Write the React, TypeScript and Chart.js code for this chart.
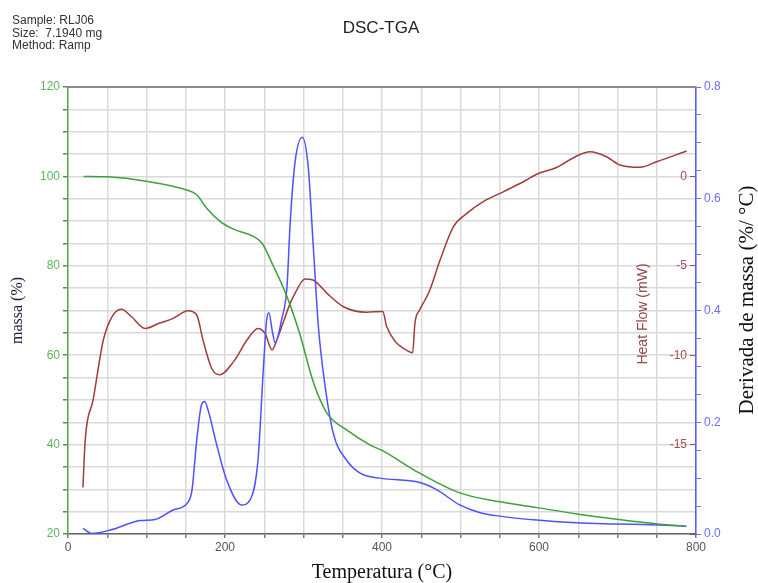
import React, { useEffect, useRef } from 'react';
import { Chart, registerables } from 'chart.js';

Chart.register(...registerables);

// Temperature (°C) samples and TGA mass (%)
const tempMass = [20, 50, 100, 150, 164, 177, 194, 211, 236, 247, 262, 279, 295, 313, 330, 355, 385, 400, 448, 499, 550, 597, 648, 699, 754, 785];
const massa = [100, 99.9, 98.9, 97.0, 95.9, 92.8, 89.9, 88.2, 86.6, 85.1, 79.8, 73.1, 64.9, 53.7, 47.0, 43.3, 39.9, 38.7, 33.6, 29.2, 27.2, 25.9, 24.5, 23.3, 22.2, 21.8];

// Derivative of mass (%/°C)
const tempDeriv = [19, 30, 54, 92, 111, 134, 153, 158, 164, 170, 174, 179, 189, 202, 221, 232, 242, 249, 253, 256, 260, 264, 272, 279, 283, 289, 298.5, 306, 312.5, 319, 327, 338, 355, 372, 397, 448, 470, 499, 525, 550, 597, 648, 699, 754, 788];
const deriv = [0.010, 0.001, 0.007, 0.024, 0.026, 0.043, 0.057, 0.079, 0.168, 0.231, 0.237, 0.219, 0.162, 0.097, 0.052, 0.061, 0.132, 0.299, 0.383, 0.396, 0.365, 0.342, 0.383, 0.443, 0.556, 0.663, 0.710, 0.657, 0.514, 0.371, 0.270, 0.180, 0.132, 0.109, 0.100, 0.092, 0.079, 0.052, 0.038, 0.032, 0.025, 0.020, 0.018, 0.016, 0.014];

// DSC heat flow (mW)
const tempHeat = [19, 22, 32, 45, 56, 68, 81, 98, 117, 134, 153, 164, 172, 183, 193, 211, 228, 242, 251, 260, 266, 283, 287, 302, 312, 330, 351, 380, 401, 406, 417, 427, 439, 442, 448, 455, 461, 474, 491, 508, 529, 555, 580, 597, 623, 648, 665, 686, 703, 729, 750, 788];
const heatFlow = [-17.4, -14.7, -12.5, -9.15, -7.85, -7.43, -7.85, -8.5, -8.2, -7.94, -7.51, -7.75, -9.15, -10.73, -11.1, -10.36, -9.15, -8.5, -8.78, -9.7, -9.15, -7.1, -6.73, -5.74, -5.79, -6.54, -7.29, -7.6, -7.55, -8.4, -9.24, -9.6, -9.86, -8.2, -7.47, -6.9, -6.35, -4.68, -2.81, -2.07, -1.41, -0.85, -0.30, 0.12, 0.51, 1.14, 1.38, 1.10, 0.64, 0.51, 0.82, 1.42];

const infoLines = ['Sample: RLJ06', 'Size:  7.1940 mg', 'Method: Ramp'];
const chartTitle = 'DSC-TGA';
const xTitle = 'Temperatura (°C)';
const massTitle = 'massa (%)';
const derivTitle = 'Derivada de massa (%/ °C)';
const heatTitle = 'Heat Flow (mW)';

const GREEN = 'rgb(60,160,60)';
const BLUE = 'rgb(80,80,255)';
const BROWN = 'rgb(160,60,60)';
const SANS = '"Liberation Sans", Arial, sans-serif';
const SERIF = '"Liberation Serif", "Times New Roman", serif';

const toPoints = (xs: number[], ys: number[]) => xs.map((x, i) => ({ x, y: ys[i] }));
const isMult = (v: number, m: number) => Math.abs(v / m - Math.round(v / m)) < 1e-6;

export default function App() {
  const ref = useRef<HTMLCanvasElement>(null);

  useEffect(() => {
    if (!ref.current) return;
    const textPlugin = {
      id: 'extraText',
      afterDraw(chart: any) {
        const { ctx, chartArea } = chart;
        ctx.save();
        // top frame line
        ctx.strokeStyle = '#8a8a8a';
        ctx.lineWidth = 2;
        ctx.beginPath();
        ctx.moveTo(chartArea.left, chartArea.top);
        ctx.lineTo(chartArea.right, chartArea.top);
        ctx.stroke();
        // sample info
        ctx.fillStyle = '#333';
        ctx.font = `12px ${SANS}`;
        ctx.textAlign = 'left';
        ctx.textBaseline = 'middle';
        infoLines.forEach((t, i) => ctx.fillText(t, 12, 21 + i * 12.5));
        // title
        ctx.fillStyle = '#222';
        ctx.font = `17px ${SANS}`;
        ctx.textAlign = 'center';
        ctx.fillText(chartTitle, 381, 28);
        // heat flow title
        ctx.save();
        ctx.translate(chartArea.right - 53, 314);
        ctx.rotate(-Math.PI / 2);
        ctx.fillStyle = 'rgb(150,70,70)';
        ctx.font = `14px ${SANS}`;
        ctx.fillText(heatTitle, 0, 0);
        ctx.restore();
        // derivative title
        ctx.save();
        ctx.translate(747, 300);
        ctx.rotate(-Math.PI / 2);
        ctx.fillStyle = '#111';
        ctx.font = `21px ${SERIF}`;
        ctx.fillText(derivTitle, 0, 0);
        ctx.restore();
        ctx.restore();
      },
    };

    const chart = new Chart(ref.current, {
      type: 'scatter',
      data: {
        datasets: [
          { data: toPoints(tempMass, massa), yAxisID: 'y', borderColor: GREEN, borderWidth: 1.5, showLine: true, pointRadius: 0, cubicInterpolationMode: 'monotone' },
          { data: toPoints(tempDeriv, deriv), yAxisID: 'yd', borderColor: BLUE, borderWidth: 1.5, showLine: true, pointRadius: 0, cubicInterpolationMode: 'monotone' },
          { data: toPoints(tempHeat, heatFlow), yAxisID: 'yh', borderColor: BROWN, borderWidth: 1.5, showLine: true, pointRadius: 0, cubicInterpolationMode: 'monotone' },
        ],
      } as any,
      options: {
        responsive: false,
        devicePixelRatio: 1,
        animation: false,
        layout: { padding: { top: 87, left: 0, right: 0, bottom: 0 } },
        plugins: { legend: { display: false }, tooltip: { enabled: false }, title: { display: false } },
        scales: {
          x: {
            type: 'linear',
            position: 'bottom',
            min: 0,
            max: 800,
            afterFit: (s: any) => { s.height = 49; },
            ticks: {
              stepSize: 50,
              autoSkip: false,
              maxRotation: 0,
              padding: 2,
              color: '#555',
              font: { family: SANS, size: 12 },
              callback: (v: any) => (isMult(v, 200) ? String(v) : ''),
            },
            grid: { color: '#d9d9d9', lineWidth: 1.5, tickLength: 4, tickColor: '#777' },
            border: { color: '#666', width: 1.5 },
            title: { display: true, text: xTitle, color: '#111', font: { family: SERIF, size: 20, lineHeight: 1.0 }, padding: 0 },
          },
          y: {
            type: 'linear',
            position: 'left',
            min: 20,
            max: 120,
            afterFit: (s: any) => { s.width = 68; },
            ticks: {
              stepSize: 5,
              autoSkip: false,
              padding: 3,
              color: '#5cb85c',
              font: { family: SANS, size: 12 },
              callback: (v: any) => (isMult(v, 20) ? String(v) : ''),
            },
            grid: { color: '#d9d9d9', lineWidth: 1.5, tickLength: 5, tickColor: '#777' },
            border: { color: '#4caf50', width: 1.5 },
            title: { display: true, text: massTitle, color: '#1c1c3c', font: { family: SERIF, size: 16 }, padding: { top: 8, bottom: 0 } },
          },
          yh: {
            type: 'linear',
            position: 'right',
            weight: 0,
            min: -20,
            max: 5,
            afterFit: (s: any) => { s.width = 0; },
            ticks: {
              stepSize: 5,
              autoSkip: false,
              mirror: true,
              padding: -9,
              color: 'rgb(160,80,80)',
              font: { family: SANS, size: 12 },
              callback: (v: any) => (v === 5 || v === -20 ? '' : String(v)),
            },
            grid: { display: true, drawOnChartArea: false, drawTicks: true, tickLength: -6, tickColor: 'rgb(160,80,80)' },
            border: { display: false },
          },
          yd: {
            type: 'linear',
            position: 'right',
            weight: 1,
            min: 0,
            max: 0.8,
            afterFit: (s: any) => { s.width = 62; },
            ticks: {
              stepSize: 0.05,
              autoSkip: false,
              padding: 3,
              color: '#6b6bff',
              font: { family: SANS, size: 12 },
              callback: (v: any) => (isMult(v, 0.2) ? Number(v).toFixed(1) : ''),
            },
            grid: { drawOnChartArea: false, tickLength: 5, tickColor: '#6b6bff' },
            border: { color: '#5a5aff', width: 1.5 },
          },
        },
      } as any,
      plugins: [textPlugin],
    });
    return () => chart.destroy();
  }, []);

  return (
    <div style={{ position: 'fixed', left: 0, top: 0, width: 758, height: 583, background: '#fff' }}>
      <canvas ref={ref} width={758} height={583} style={{ display: 'block' }} />
    </div>
  );
}
